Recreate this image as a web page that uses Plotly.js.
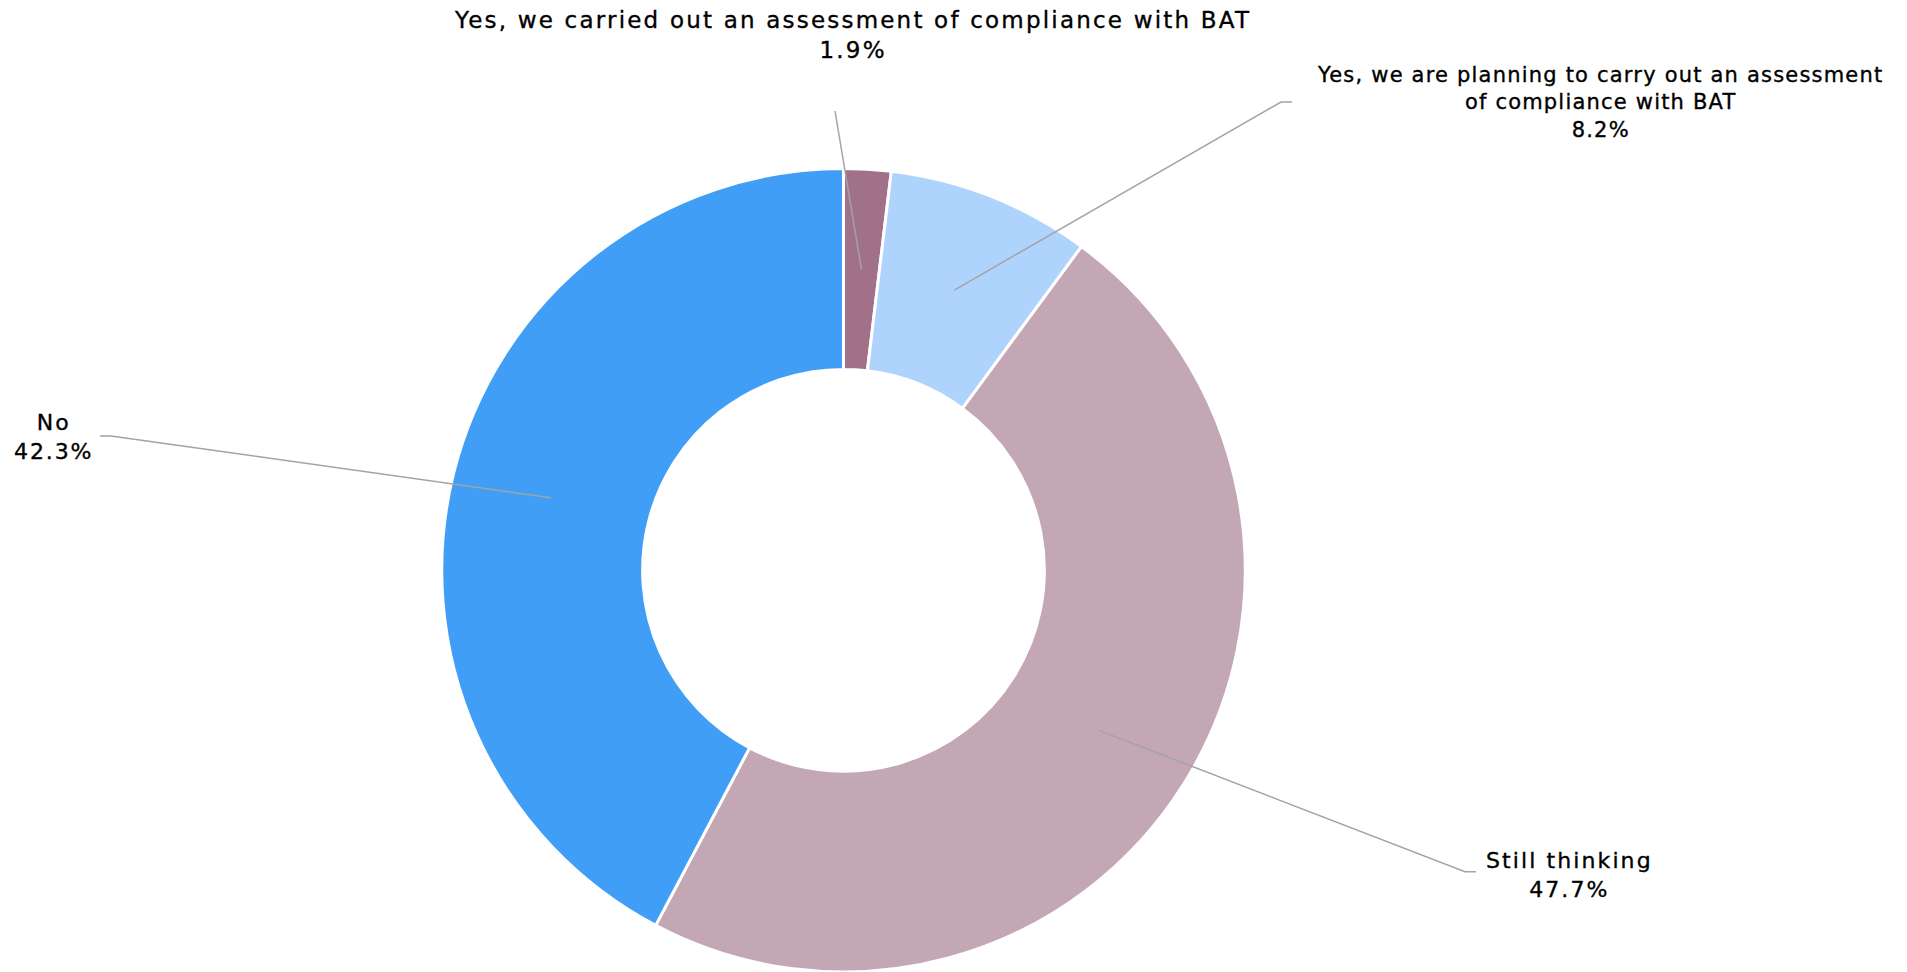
<!DOCTYPE html>
<html>
<head>
<meta charset="utf-8">
<script src="https://cdn.plot.ly/plotly-3.0.1.min.js"></script>
<style>
  html, body { margin: 0; padding: 0; background: #ffffff; }
  #chart { width: 1907px; height: 972px; }
</style>
</head>
<body>
<div id="chart"></div>
<script>
// ---- data ----
const categories = [
  'Yes, we carried out an assessment of compliance with BAT',
  'Yes, we are planning to carry out an assessment of compliance with BAT',
  'Still thinking',
  'No'
];
const displayLabels = [
  'Yes, we carried out an assessment of compliance with BAT',
  'Yes, we are planning to carry out an assessment<br>of compliance with BAT',
  'Still thinking',
  'No'
];
const values = [1.9, 8.2, 47.7, 42.3];
const colors = ['#A07189', '#AED4FD', '#C4A7B5', '#409EF6'];

// ---- layout constants (pixels) ----
const W = 1907, H = 972;
const CX = 843.5, CY = 570.25, R = 401.75;
const HOLE = 0.5;
const labelFont = [23, 21, 22, 22];
const labelSpacing = [2.2, 1.2, 2.1, 1.9];
const labelPos = [[852, 34.5], [1600, 103], [1569, 874.5], [53.5, 436.7]];
const elbows = [[835, 111], [1281, 102], [1465, 871.7], [111, 436]];
const ends = [null, [1292, 102], [1476, 871.7], [100, 436]];

const domainX = [(CX - R) / W, (CX + R) / W];
const domainY = [1 - (CY + R) / H, 1 - (CY - R) / H];

const px = x => x / W;
const py = y => 1 - y / H;

const total = values.reduce((a, b) => a + b, 0);
let cum = 0;
const shapes = [];
const annotations = [];
const rMid = R * (1 + HOLE) / 2;
values.forEach((v, i) => {
  const theta = 2 * Math.PI * (cum + v / 2) / total;
  cum += v;
  const sx = CX + rMid * Math.sin(theta);
  const sy = CY - rMid * Math.cos(theta);
  let path = `M ${px(sx)},${py(sy)} L ${px(elbows[i][0])},${py(elbows[i][1])}`;
  if (ends[i]) path += ` L ${px(ends[i][0])},${py(ends[i][1])}`;
  shapes.push({
    type: 'path', xref: 'paper', yref: 'paper', path: path,
    line: { color: '#A3A3A3', width: 1.5 }
  });
  const lines = (displayLabels[i] + '<br>' + v.toFixed(1) + '%').split('<br>');
  const text = lines.map(l =>
    `<span style="letter-spacing:${labelSpacing[i]}px;stroke:#000000;stroke-width:0.35px">${l}</span>`
  ).join('<br>');
  annotations.push({
    xref: 'paper', yref: 'paper',
    x: px(labelPos[i][0]), y: py(labelPos[i][1]),
    xanchor: 'center', yanchor: 'middle', align: 'center',
    showarrow: false,
    text: text,
    font: { family: 'DejaVu Sans, sans-serif', size: labelFont[i], color: '#000000' }
  });
});

const trace = {
  type: 'pie',
  labels: categories,
  values: values,
  hole: HOLE,
  sort: false,
  direction: 'clockwise',
  rotation: 0,
  textinfo: 'none',
  hoverinfo: 'label+percent',
  marker: { colors: colors, line: { color: '#ffffff', width: 3 } },
  domain: { x: domainX, y: domainY },
  showlegend: false
};

const layout = {
  width: W, height: H,
  margin: { l: 0, r: 0, t: 0, b: 0, pad: 0 },
  paper_bgcolor: '#ffffff',
  plot_bgcolor: '#ffffff',
  showlegend: false,
  shapes: shapes,
  annotations: annotations
};

Plotly.newPlot('chart', [trace], layout, { displayModeBar: false, staticPlot: true });
</script>
</body>
</html>
